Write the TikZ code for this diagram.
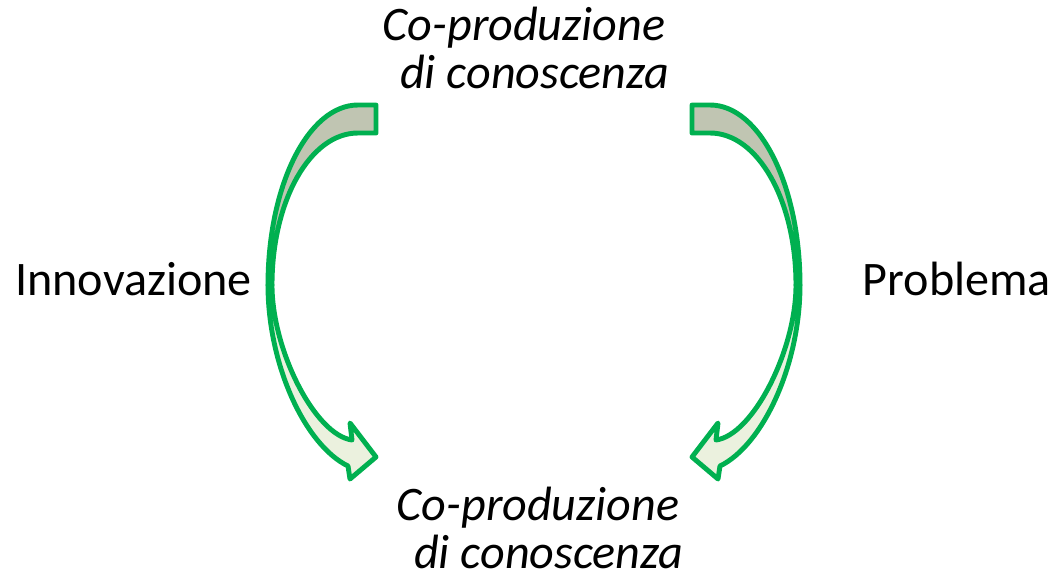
\documentclass[tikz,border=0pt]{standalone}
\usepackage{fontspec}
\setmainfont{Carlito}
\usepackage{tikz}
\definecolor{arrowgreen}{HTML}{00B050}
\definecolor{backfill}{HTML}{C0C5B2}
\definecolor{frontfill}{HTML}{EBF1DE}
\tikzstyle{term} = [font=\fontsize{27.4pt}{27.3pt}\selectfont, inner sep=0pt, anchor=base]
\tikzstyle{coprod} = [term, font=\fontsize{27.4pt}{27.3pt}\selectfont\itshape, align=center]
\tikzstyle{back} = [draw=arrowgreen, line width=2.8pt, line join=round, fill=backfill]
\tikzstyle{front} = [draw=arrowgreen, line width=2.8pt, line join=round, fill=frontfill]
\newcommand{\bentarrow}{%
\draw [back] (376,105) -- (358,105) .. controls (308,105) and (268,186) .. (268,285)
  -- (272,285) .. controls (272,201) and (310,133) .. (358,133) -- (376,133) -- cycle;
\draw [front] (268,285) .. controls (268,365) and (305,445) .. (348,466)
  -- (350,479) -- (376,457) -- (350,423) -- (352,440)
  .. controls (315,435) and (272,350) .. (272,285) -- cycle;
}

\begin{document}
\begin{tikzpicture}[x=0.02cm, y=-0.02cm]
\useasboundingbox (0,0) rectangle (1056,586);

\node (topco) [coprod] at (524,88) {Co-produzione\\\hspace*{0.45em}di conoscenza};
\node (innov) [term] at (133.5,295) {Innovazione};
\node (probl) [term] at (957,295) {Problema};
\node (botco) [coprod] at (538,568) {Co-produzione\\\hspace*{0.45em}di conoscenza};

\bentarrow
\begin{scope}[shift={(1068,0)}, xscale=-1]
\bentarrow
\end{scope}

\end{tikzpicture}
\end{document}
